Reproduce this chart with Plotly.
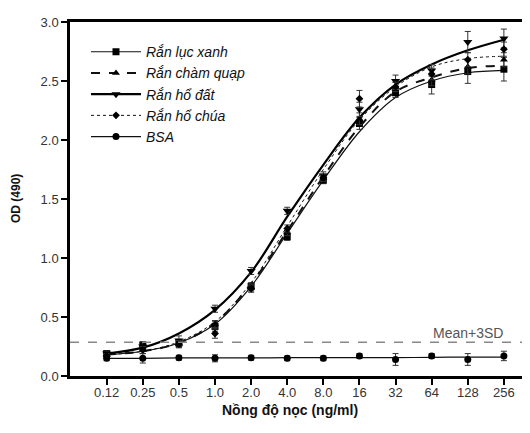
import plotly.graph_objects as go
import math

conc = [0.125, 0.25, 0.5, 1, 2, 4, 8, 16, 32, 64, 128, 256]
tick_labels = ["0.12", "0.25", "0.5", "1.0", "2.0", "4.0", "8.0", "16", "32", "64", "128", "256"]

names = ["Rắn lục xanh", "Rắn chàm quạp", "Rắn hổ đất", "Rắn hổ chúa", "BSA"]

# measured means
luc_xanh = [0.19, 0.26, 0.28, 0.42, 0.76, 1.18, 1.66, 2.14, 2.40, 2.47, 2.58, 2.60]
cham_quap = [0.18, 0.22, 0.27, 0.44, 0.75, 1.22, 1.68, 2.18, 2.45, 2.51, 2.62, 2.68]
ho_dat = [0.19, 0.25, 0.30, 0.57, 0.89, 1.40, 1.70, 2.26, 2.50, 2.59, 2.83, 2.86]
ho_chua = [0.17, 0.22, 0.27, 0.36, 0.74, 1.25, 1.68, 2.35, 2.45, 2.56, 2.68, 2.77]
bsa = [0.15, 0.15, 0.155, 0.15, 0.155, 0.15, 0.15, 0.17, 0.14, 0.17, 0.14, 0.17]

# error bars (SD)
err_luc_xanh = [0.02, 0.03, 0.03, 0.04, 0.03, 0.03, 0.03, 0.05, 0.04, 0.08, 0.10, 0.10]
err_cham_quap = [0.02, 0.03, 0.03, 0.03, 0.03, 0.03, 0.03, 0.05, 0.04, 0.05, 0.06, 0.06]
err_ho_dat = [0.02, 0.04, 0.04, 0.03, 0.03, 0.03, 0.03, 0.06, 0.05, 0.05, 0.09, 0.08]
err_ho_chua = [0.02, 0.03, 0.03, 0.04, 0.03, 0.03, 0.03, 0.07, 0.04, 0.05, 0.06, 0.06]
err_bsa = [0.02, 0.04, 0.02, 0.03, 0.02, 0.02, 0.02, 0.02, 0.05, 0.02, 0.05, 0.04]

# fitted curve values read at each concentration
fit_luc_xanh = [0.18, 0.21, 0.28, 0.44, 0.76, 1.21, 1.66, 2.07, 2.36, 2.50, 2.57, 2.59]
fit_cham_quap = [0.18, 0.21, 0.28, 0.45, 0.78, 1.23, 1.69, 2.11, 2.41, 2.53, 2.61, 2.63]
fit_ho_dat = [0.19, 0.24, 0.36, 0.56, 0.88, 1.35, 1.79, 2.19, 2.47, 2.64, 2.76, 2.85]
fit_ho_chua = [0.18, 0.21, 0.29, 0.46, 0.79, 1.27, 1.75, 2.17, 2.45, 2.62, 2.69, 2.71]
fit_bsa = [0.15, 0.15, 0.153, 0.153, 0.153, 0.155, 0.155, 0.155, 0.156, 0.158, 0.16, 0.16]

cutoff = 0.285
cutoff_label = "Mean+3SD"

series = [
    (names[0], luc_xanh, err_luc_xanh, fit_luc_xanh, "square", 7, dict(color="#111", width=1.2, dash="solid")),
    (names[1], cham_quap, err_cham_quap, fit_cham_quap, "triangle-up", 7, dict(color="#111", width=2, dash="dash")),
    (names[2], ho_dat, err_ho_dat, fit_ho_dat, "triangle-down", 8, dict(color="#000", width=2.2, dash="solid")),
    (names[3], ho_chua, err_ho_chua, fit_ho_chua, "diamond", 6, dict(color="#111", width=1, dash="dot")),
    (names[4], bsa, err_bsa, fit_bsa, "circle", 7, dict(color="#111", width=1.2, dash="solid")),
]

FONT = "Liberation Sans, Arial"
fig = go.Figure()

for name, vals, errs, fit, sym, size, line in series:
    fig.add_trace(go.Scatter(x=conc, y=fit, mode="lines", line=dict(**line, shape="spline"),
                             showlegend=False, hoverinfo="skip"))
    fig.add_trace(go.Scatter(x=conc, y=vals, mode="markers", showlegend=False,
                             marker=dict(symbol=sym, size=size, color="#000"),
                             error_y=dict(type="data", array=errs, color="#333", thickness=1, width=3)))

for name, vals, errs, fit, sym, size, line in series:
    fig.add_trace(go.Scatter(x=[None], y=[None], mode="lines+markers", name="<i>" + name + "</i>",
                             line=line, marker=dict(symbol=sym, size=size, color="#000")))

fig.add_shape(type="line", xref="paper", yref="y", x0=0, x1=1, y0=cutoff, y1=cutoff,
              line=dict(color="#888", width=1.5, dash="dash"))
fig.add_annotation(x=math.log10(256) + 0.01, y=cutoff, xref="x", yref="y", text=cutoff_label,
                   showarrow=False, xanchor="right", yanchor="bottom", yshift=-1,
                   font=dict(family=FONT, size=14, color="#555"))

fig.add_annotation(x=(16 - 70) / 457, y=0.5, xref="paper", yref="paper", text="<b>OD (490)</b>",
                   textangle=-90, showarrow=False, xanchor="center", yanchor="middle",
                   font=dict(family=FONT, size=12, color="#111"))
fig.add_annotation(x=(290 - 70) / 457, y=-(410 - 376) / 354, xref="paper", yref="paper",
                   text="<b>Nồng độ nọc (ng/ml)</b>", showarrow=False, xanchor="center", yanchor="middle",
                   font=dict(family=FONT, size=14, color="#111"))

# page body has an 8px margin, so the figure is sized/offset to compensate
fig.update_layout(
    width=522, height=425,
    margin=dict(l=62, r=3, t=14, b=57),
    paper_bgcolor="white", plot_bgcolor="white",
    font=dict(family=FONT, size=13, color="#333"),
    xaxis=dict(type="log", range=[-1.2089, 2.6009], tickvals=conc, ticktext=tick_labels,
               showline=True, linecolor="#000", linewidth=2.5, mirror=True,
               ticks="outside", ticklen=6, tickwidth=2, tickcolor="#000",
               showgrid=False, zeroline=False, tickfont=dict(size=13, color="#333"),
               ticklabelstandoff=-3),
    yaxis=dict(range=[0, 3], tickvals=[0, 0.5, 1, 1.5, 2, 2.5, 3], tickformat=".1f",
               showline=True, linecolor="#000", linewidth=2.5,
               ticks="outside", ticklen=6, tickwidth=2, tickcolor="#000",
               showgrid=False, zeroline=False, tickfont=dict(size=13, color="#333")),
    legend=dict(x=0.035, y=0.96, xanchor="left", yanchor="top", bgcolor="rgba(0,0,0,0)",
                font=dict(family=FONT, size=14, color="#111"),
                tracegroupgap=0, itemwidth=50),
    showlegend=True,
)

fig.write_html("out.html")
